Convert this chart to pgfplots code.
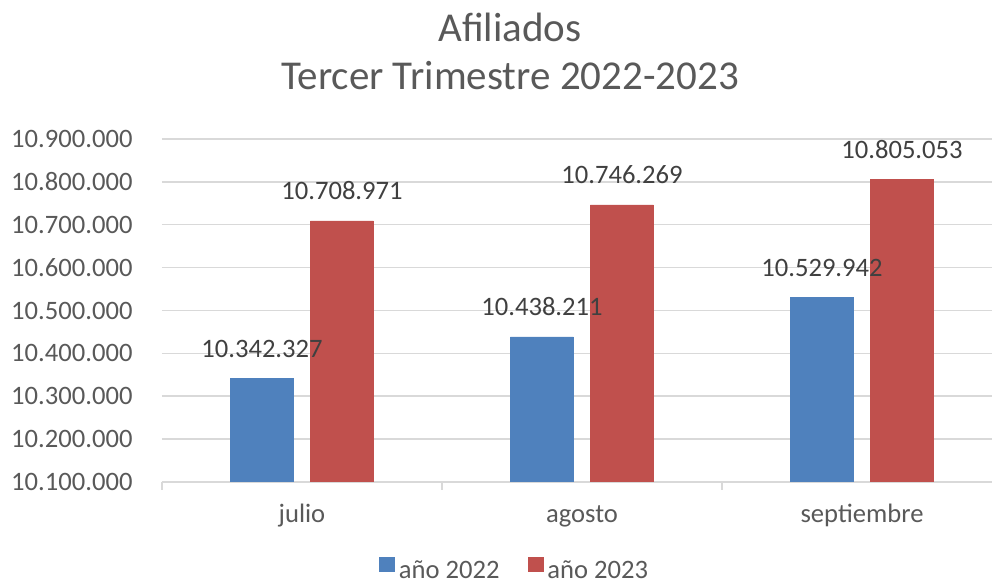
\documentclass[border=0pt]{standalone}
\usepackage{fontspec}
\setmainfont{Carlito}
\usepackage{pgfplots}
\pgfplotsset{compat=1.18}

\definecolor{barblue}{HTML}{4F81BD}
\definecolor{barred}{HTML}{C0504D}
\definecolor{gridgray}{HTML}{D9D9D9}
\definecolor{txtgray}{HTML}{595959}
\definecolor{lblgray}{HTML}{404040}

\begin{document}
\begin{tikzpicture}
\path[use as bounding box] (-81pt,-50.5pt) rectangle (415pt,241pt);
\begin{axis}[
    at={(0,0)}, anchor=south west,
    scale only axis, width=420pt, height=171.5pt,
    ybar=8.5pt, bar width=31.5pt,
    xmin=-0.5, xmax=2.5,
    ymin=10100000, ymax=10900000,
    ytick={10100000,10200000,10300000,10400000,10500000,10600000,10700000,10800000,10900000},
    scaled y ticks=false,
    /pgf/number format/fixed, /pgf/number format/precision=0,
    /pgf/number format/1000 sep={.}, /pgf/number format/assume math mode=true,
    xtick={0,1,2}, xticklabels={julio,agosto,septiembre},
    minor xtick={-0.5,0.5,1.5,2.5},
    major tick length=0pt, minor tick length=4pt, tick align=outside,
    every minor tick/.append style={gridgray, line width=0.75pt},
    separate axis lines,
    axis x line*=bottom, axis y line*=left,
    x axis line style={gridgray, line width=0.75pt},
    y axis line style={draw=none},
    ymajorgrids, grid style={gridgray, line width=0.75pt},
    tick label style={font=\fontsize{13.3}{15}\selectfont, text=txtgray},
    yticklabel style={anchor=east, xshift=-11.2pt},
    xticklabel style={anchor=base, yshift=-20.5pt},
    point meta=explicit symbolic,
    nodes near coords,
    every node near coord/.append style={anchor=base, yshift=10.5pt,
        font=\fontsize{13.3}{15}\selectfont, text=lblgray},
    legend columns=2,
    legend image code/.code={\fill[#1] (0pt,-0.5pt) rectangle (7.5pt,6.5pt);},
    legend style={draw=none, fill=none, at={(0.421,0)}, anchor=north, yshift=-35pt,
        font=\fontsize{13.3}{15}\selectfont, text=txtgray,
        column sep=0pt, /tikz/every even column/.append style={column sep=12pt}},
]
\addplot[fill=barblue, draw=barblue] coordinates {
    (0,10342327) [10.342.327]
    (1,10438211) [10.438.211]
    (2,10529942) [10.529.942]};
\addlegendentry{año 2022}
\addplot[fill=barred, draw=barred] coordinates {
    (0,10708971) [10.708.971]
    (1,10746269) [10.746.269]
    (2,10805053) [10.805.053]};
\addlegendentry{año 2023}
\end{axis}
\node[anchor=base, text=txtgray, font=\fontsize{20.5}{24}\selectfont] at (174pt,220pt) {Afiliados};
\node[anchor=base, text=txtgray, font=\fontsize{20.5}{24}\selectfont] at (174pt,196pt) {Tercer Trimestre 2022-2023};
\end{tikzpicture}
\end{document}
